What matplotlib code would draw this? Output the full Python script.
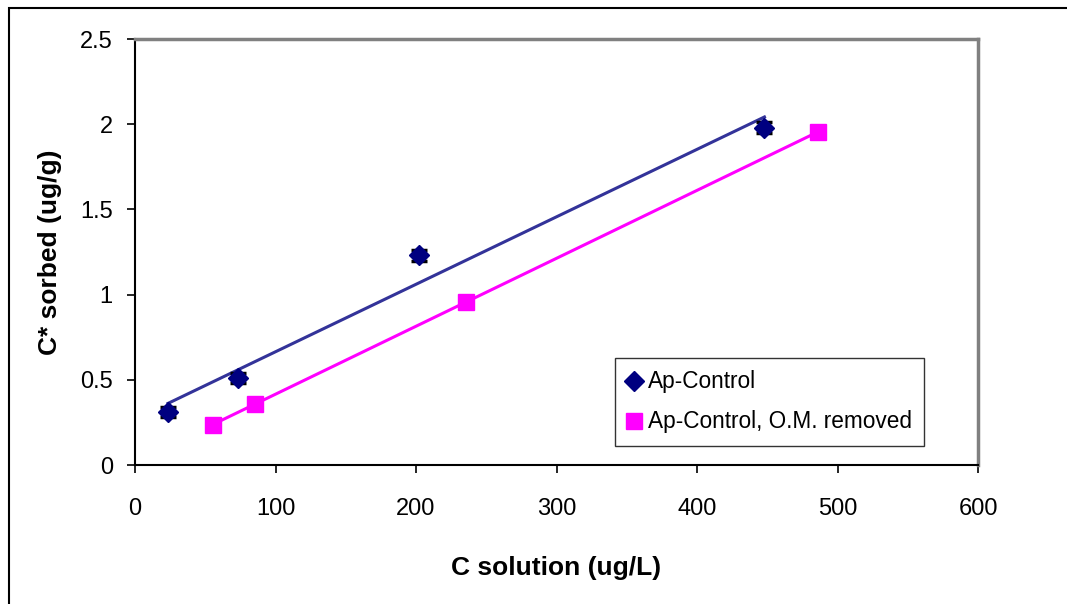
import numpy as np
import matplotlib
matplotlib.use("Agg")
import matplotlib.pyplot as plt
from matplotlib.patches import Rectangle

plt.rcParams['font.family'] = ['Liberation Sans', 'DejaVu Sans']

# Ap-Control
ctrl_x = [23.5, 73, 202, 448]
ctrl_y = [0.31, 0.51, 1.23, 1.98]
ctrl_err = [0.03, 0.03, 0.03, 0.03]

# Ap-Control, O.M. removed
om_x = [55.5, 85.4, 235.6, 486]
om_y = [0.235, 0.36, 0.957, 1.954]

fig = plt.figure(figsize=(10.67, 6.04), dpi=100)
ax = fig.add_axes([135/1067, 1 - 465/604, (978-135)/1067, (465-39)/604])

# outer chart border
fig.patches.append(Rectangle((9/1067, -0.1), 1.2, 1 - 8/604 + 0.1, transform=fig.transFigure,
                             fill=False, edgecolor='black', linewidth=1.5))

# trend lines
p1 = np.polyfit(ctrl_x, ctrl_y, 1)
p2 = np.polyfit(om_x, om_y, 1)
xs1 = np.array([min(ctrl_x), max(ctrl_x)])
xs2 = np.array([min(om_x), max(om_x)])
ax.plot(xs1, np.polyval(p1, xs1), color='#333399', lw=2.2, zorder=2)
ax.plot(xs2, np.polyval(p2, xs2), color='#FF00FF', lw=2.2, zorder=2)

ax.errorbar(ctrl_x, ctrl_y, yerr=ctrl_err, fmt='none', ecolor='black',
            elinewidth=1.5, capsize=6, capthick=2.5, zorder=3)
ax.plot(ctrl_x, ctrl_y, 'D', color='#000080', markersize=10.5, ls='none',
        label='Ap-Control', zorder=4)
ax.plot(om_x, om_y, 's', color='#FF00FF', markersize=12, ls='none',
        label='Ap-Control, O.M. removed', zorder=4)

ax.set_xlim(0, 600)
ax.set_ylim(0, 2.5)
ax.set_xticks([0, 100, 200, 300, 400, 500, 600])
ax.set_yticks([0, 0.5, 1, 1.5, 2, 2.5])
ax.set_yticklabels(['0', '0.5', '1', '1.5', '2', '2.5'])
ax.tick_params(labelsize=17, length=6, width=1.2, direction='out')
ax.tick_params(axis='x', pad=18)
ax.tick_params(axis='y', pad=10)

for s in ['left', 'bottom']:
    ax.spines[s].set_color('black')
    ax.spines[s].set_linewidth(1.5)
for s in ['top', 'right']:
    ax.spines[s].set_color('#808080')
    ax.spines[s].set_linewidth(2.5)

ax.set_xlabel('C solution (ug/L)', fontsize=19, fontweight='bold', labelpad=26)
ax.set_ylabel('C* sorbed (ug/g)', fontsize=19, fontweight='bold', labelpad=13)

leg = ax.legend(loc='upper left', bbox_to_anchor=((615-135)/843, (465-358)/426),
                fontsize=16.3, frameon=True, fancybox=False, handlelength=0.6,
                handletextpad=0.3, borderpad=0.55, labelspacing=0.75, borderaxespad=0)
leg.get_frame().set_edgecolor('black')
leg.get_frame().set_linewidth(1)

fig.savefig('out.png', dpi=100)
